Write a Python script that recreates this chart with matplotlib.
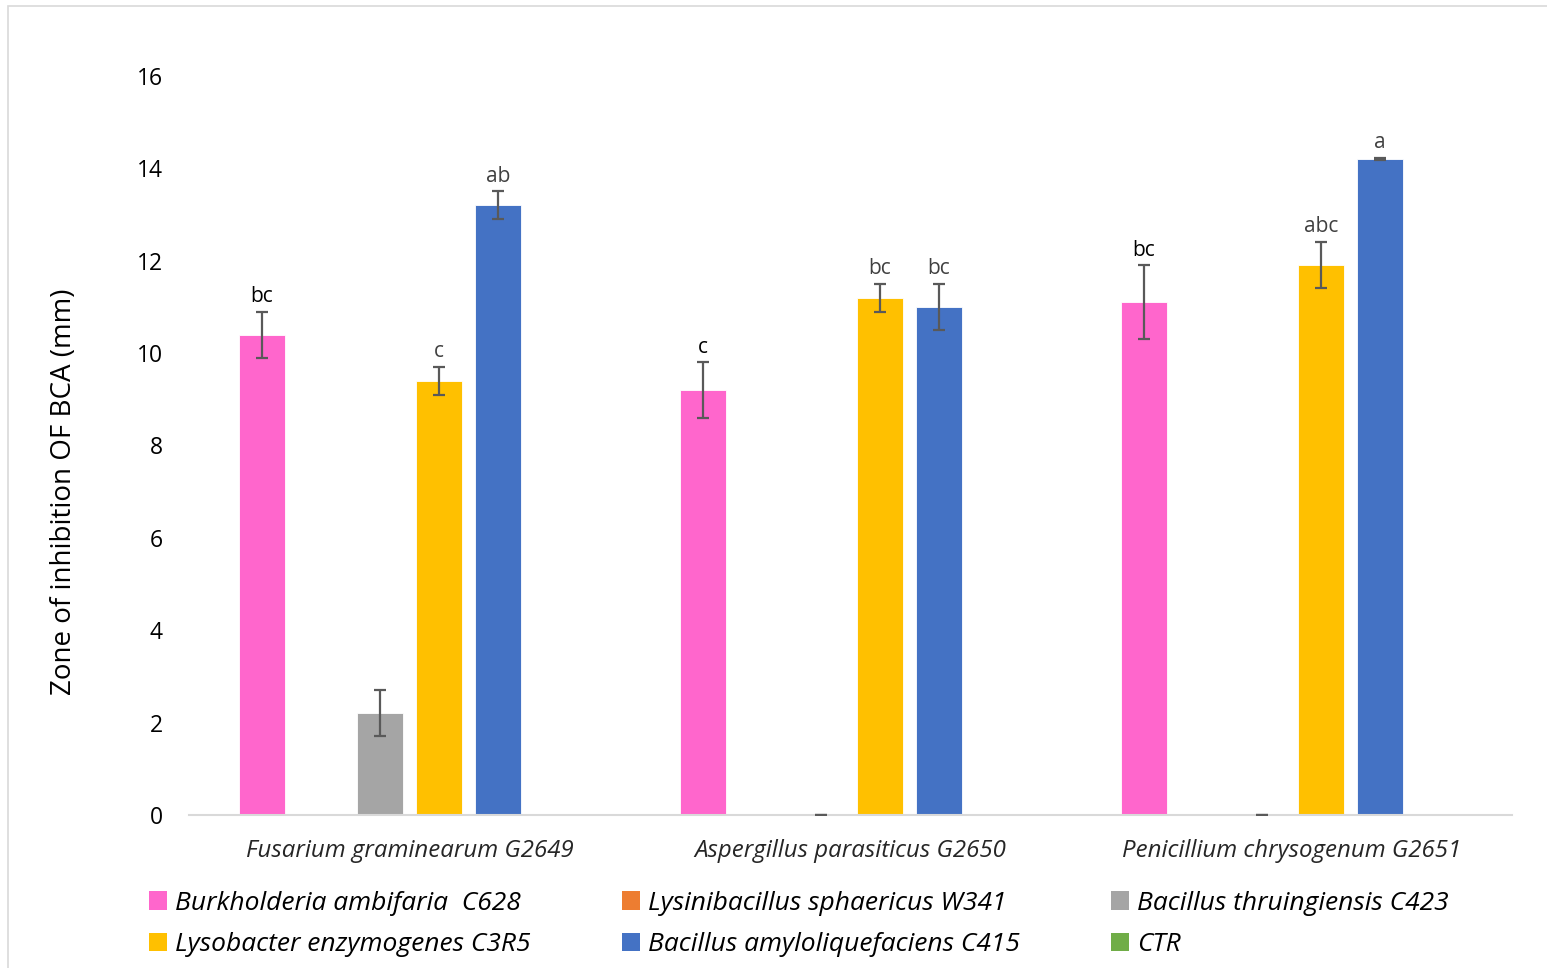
import matplotlib
matplotlib.use("Agg")
import matplotlib.pyplot as plt
import numpy as np
from matplotlib.patches import Patch, Rectangle

plt.rcParams['font.family'] = ['Open Sans', 'DejaVu Sans']

groups = ["Fusarium graminearum G2649", "Aspergillus parasiticus G2650", "Penicillium chrysogenum G2651"]
series = ["Burkholderia ambifaria  C628", "Lysinibacillus sphaericus W341", "Bacillus thruingiensis C423",
          "Lysobacter enzymogenes C3R5", "Bacillus amyloliquefaciens C415", "CTR"]
colors = ["#FF66CC", "#ED7D31", "#A5A5A5", "#FFC000", "#4472C4", "#70AD47"]

# values per series across groups
burk_vals = [10.4, 9.2, 11.1]
burk_err = [0.5, 0.6, 0.8]
lysini_vals = [0, 0, 0]
lysini_err = [None, None, None]
thur_vals = [2.2, 0, 0]
thur_err = [0.5, 0.0, 0.0]
lyso_vals = [9.4, 11.2, 11.9]
lyso_err = [0.3, 0.3, 0.5]
amylo_vals = [13.2, 11.0, 14.2]
amylo_err = [0.3, 0.5, 0.02]
ctr_vals = [0, 0, 0]
ctr_err = [None, None, None]

burk_letters = ["bc", "c", "bc"]
lyso_letters = ["c", "bc", "abc"]
amylo_letters = ["ab", "bc", "a"]
letter_colors = {"burk": ["#000000", "#000000", "#000000"],
                 "lyso": ["#404040", "#404040", "#404040"],
                 "amylo": ["#404040", "#404040", "#404040"]}

yticks = [0, 2, 4, 6, 8, 10, 12, 14, 16]

all_vals = [burk_vals, lysini_vals, thur_vals, lyso_vals, amylo_vals, ctr_vals]
all_errs = [burk_err, lysini_err, thur_err, lyso_err, amylo_err, ctr_err]
letters = {0: (burk_letters, letter_colors["burk"]), 3: (lyso_letters, letter_colors["lyso"]),
           4: (amylo_letters, letter_colors["amylo"])}

W, H = 1547, 968
fig = plt.figure(figsize=(W / 100, H / 100), dpi=100)
ax = fig.add_axes([189 / W, 1 - 815 / H, (1512 - 189) / W, (815 - 76) / H])

slot = 59 / 441
bw = 46 / 441
x = np.arange(len(groups))
for i, (vals, errs) in enumerate(zip(all_vals, all_errs)):
    pos = x + (i - 2.5) * slot
    ax.bar(pos, vals, width=bw, color=colors[i], edgecolor="white", linewidth=0.6, zorder=2)
    for j in range(len(groups)):
        if errs[j] is not None:
            ax.errorbar(pos[j], vals[j], yerr=errs[j], fmt="none", ecolor="#595959",
                        elinewidth=1.6, capsize=4.5, capthick=1.6, zorder=3)
    if i in letters:
        labs, cols = letters[i]
        for j in range(len(groups)):
            top = vals[j] + (errs[j] or 0)
            ax.annotate(labs[j], (pos[j], top), xytext=(0, 3.5), textcoords="offset points",
                        ha="center", va="bottom", fontsize=15, color=cols[j])

ax.set_xlim(-0.5, 2.5)
ax.set_ylim(0, 16)
ax.set_yticks(yticks)
ax.set_yticklabels([str(t) for t in yticks], fontsize=16.5, color="#000000")
ax.tick_params(axis="y", length=0, pad=19)
ax.set_xticks(x)
ax.set_xticklabels(groups, fontsize=17.3, style="italic", color="#262626")
ax.tick_params(axis="x", length=0, pad=17)
for s in ["top", "right", "left"]:
    ax.spines[s].set_visible(False)
ax.spines["bottom"].set_color("#D9D9D9")
ax.spines["bottom"].set_linewidth(1.5)
ax.set_ylabel("Zone of inhibition OF BCA (mm)", fontsize=20)
ax.yaxis.set_label_coords(-0.084, 0.438)

handles = [Patch(facecolor=c, edgecolor="none") for c in colors]
order = [0, 3, 1, 4, 2, 5]
leg = fig.legend([handles[k] for k in order], [series[k] for k in order], ncol=3,
                 loc="upper left", bbox_to_anchor=(125 / W, 1 - 867 / H), frameon=False,
                 prop={"size": 19, "style": "italic"}, handlelength=0.7, handleheight=0.7,
                 handletextpad=0.3, columnspacing=3.45, labelspacing=0.62)

fig.patches.append(Rectangle((8 / W, -0.1), 1.1, 1 - 6 / H + 0.1, transform=fig.transFigure,
                             fill=False, edgecolor="#D9D9D9", linewidth=1.2))

fig.savefig("out.png", dpi=100, facecolor="white")
